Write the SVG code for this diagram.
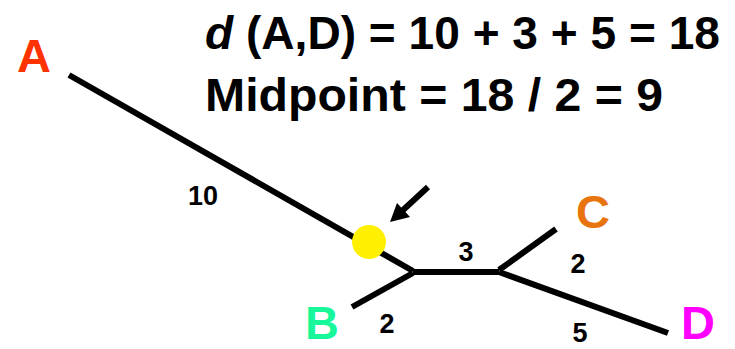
<svg xmlns="http://www.w3.org/2000/svg" width="735" height="349" viewBox="0 0 735 349">
<style>
.title{font-family:"Liberation Sans",Arial,sans-serif;font-weight:bold;font-size:47px;fill:#000}
.leaf{font-family:"Liberation Sans",Arial,sans-serif;font-weight:bold;font-size:47px;text-anchor:middle}
.len{font-family:"Liberation Sans",Arial,sans-serif;font-weight:bold;font-size:27px;fill:#000;text-anchor:middle}
.edge{stroke:#000;stroke-width:6;fill:none;stroke-linecap:butt}
</style>
<g id="title">
<text class="title" x="205" y="49" textLength="515" lengthAdjust="spacingAndGlyphs"><tspan font-style="italic">d</tspan> (A,D) = 10 + 3 + 5 = 18</text>
<text class="title" x="205" y="111" textLength="458" lengthAdjust="spacingAndGlyphs">Midpoint = 18 / 2 = 9</text>
</g>
<g id="connectors">
<line class="edge" x1="69" y1="75" x2="413" y2="271"/>
<line class="edge" x1="413" y1="273" x2="352" y2="307"/>
<line class="edge" x1="413" y1="272" x2="499" y2="272"/>
<line class="edge" x1="499" y1="270" x2="556" y2="229"/>
<line class="edge" x1="499" y1="272" x2="668" y2="333"/>
<line stroke="#000" stroke-width="6" x1="428" y1="187" x2="402" y2="211"/>
<polygon points="390,222 397,203 410,217" fill="#000"/>
</g>
<g id="midpoint"><circle cx="369" cy="242" r="17" fill="#FFF000"/></g>
<g id="nodeA"><text class="leaf" x="34" y="72" fill="#FF3300">A</text></g>
<g id="nodeB"><text class="leaf" x="322" y="339" fill="#19F79B">B</text></g>
<g id="nodeC"><text class="leaf" x="593" y="228" fill="#E8740F">C</text></g>
<g id="nodeD"><text class="leaf" x="698" y="339" fill="#FF00FF">D</text></g>
<g id="labels">
<text class="len" x="203" y="205">10</text>
<text class="len" x="466" y="261">3</text>
<text class="len" x="387" y="333">2</text>
<text class="len" x="578" y="273">2</text>
<text class="len" x="580" y="342">5</text>
</g>
</svg>
